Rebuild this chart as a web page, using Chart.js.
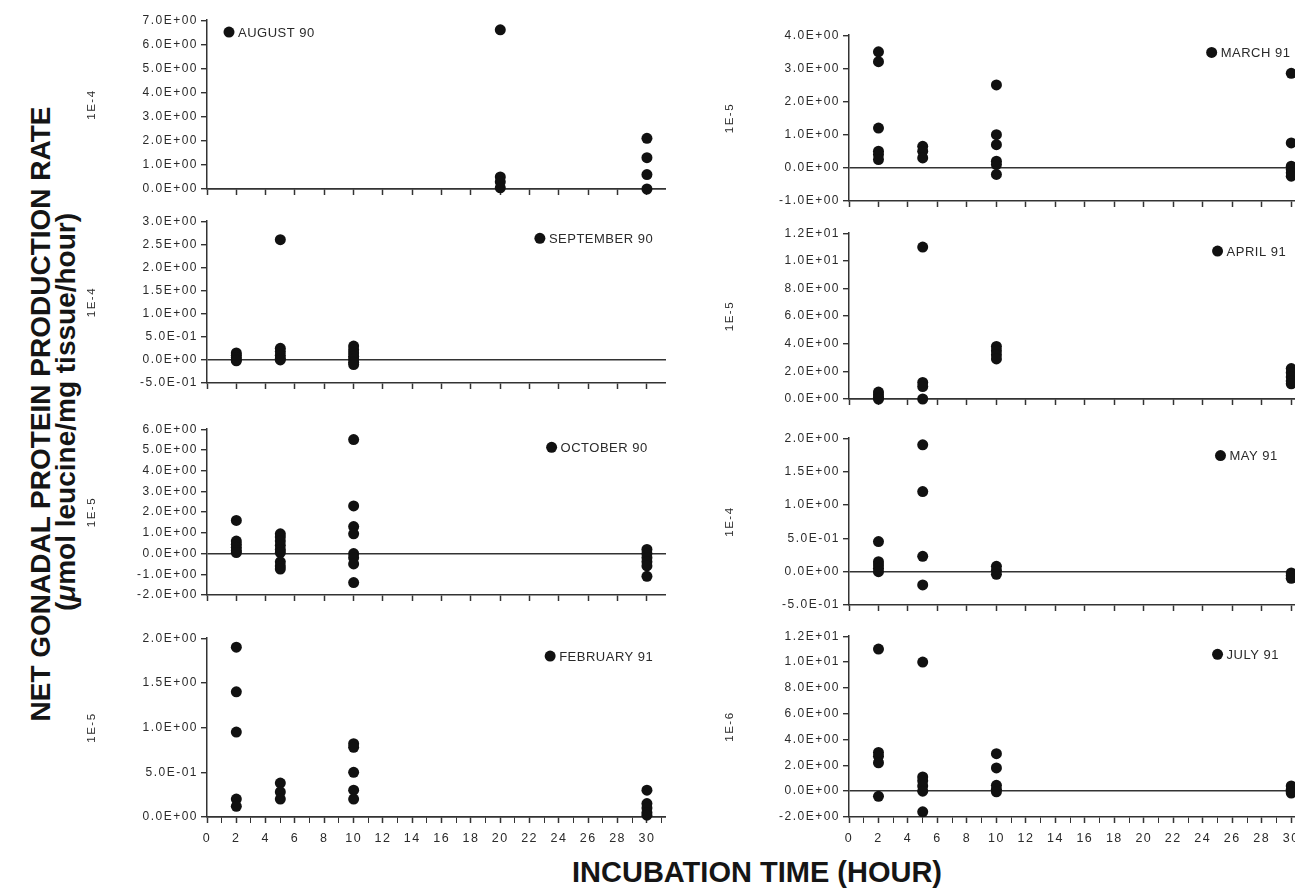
<!DOCTYPE html>
<html>
<head>
<meta charset="utf-8">
<script src="https://cdn.jsdelivr.net/npm/chart.js@4.4.1/dist/chart.umd.min.js"></script>
<style>
html, body { margin:0; padding:0; background:#fff; width:1295px; height:889px; overflow:hidden; }
canvas { position:absolute; }
.ttl { position:absolute; font:bold 28px "Liberation Sans", Arial, sans-serif; color:#151515; white-space:nowrap; }
.rot { transform:translate(-50%, -50%) rotate(-90deg); }
</style>
</head>
<body>
<div class="ttl rot" style="left:41px; top:414px;">NET GONADAL PROTEIN PRODUCTION RATE</div>
<div class="ttl rot" style="left:66px; top:412px;">(<i>μ</i>mol leucine/mg tissue/hour)</div>
<div class="ttl" style="left:572px; top:856px; font-size:29px;">INCUBATION TIME (HOUR)</div>
<script>
// incubation hour / production rate pairs, one pair of arrays per sampling month
const augHours = [20, 20, 20, 20, 30, 30, 30, 30];
const augRate  = [6.6, 0.5, 0.3, 0.05, 2.1, 1.3, 0.6, 0.0];

const sepHours = [2, 2, 2, 2, 2, 5, 5, 5, 5, 5, 5, 10, 10, 10, 10, 10, 10, 10];
const sepRate  = [0.15, 0.1, 0.05, 0.0, -0.02, 2.6, 0.25, 0.18, 0.1, 0.03, 0.0, 0.3, 0.22, 0.15, 0.08, 0.02, -0.05, -0.1];

const octHours = [2, 2, 2, 2, 2, 2, 5, 5, 5, 5, 5, 5, 5, 5, 5, 10, 10, 10, 10, 10, 10, 10, 10, 30, 30, 30, 30, 30, 30];
const octRate  = [1.6, 0.6, 0.45, 0.3, 0.15, 0.05, 0.95, 0.8, 0.6, 0.4, 0.2, 0.05, -0.4, -0.6, -0.75,
                  5.5, 2.3, 1.3, 0.95, 0.0, -0.2, -0.5, -1.4, 0.2, 0.0, -0.2, -0.4, -0.6, -1.1];

const febHours = [2, 2, 2, 2, 2, 5, 5, 5, 10, 10, 10, 10, 10, 30, 30, 30, 30, 30];
const febRate  = [1.9, 1.4, 0.95, 0.2, 0.12, 0.38, 0.28, 0.2, 0.82, 0.78, 0.5, 0.3, 0.2, 0.3, 0.15, 0.1, 0.05, 0.02];

const marHours = [2, 2, 2, 2, 2, 2, 5, 5, 5, 10, 10, 10, 10, 10, 10, 30, 30, 30, 30, 30, 30];
const marRate  = [3.5, 3.2, 1.2, 0.5, 0.4, 0.25, 0.65, 0.5, 0.3, 2.5, 1.0, 0.7, 0.2, 0.1, -0.2, 2.85, 0.75, 0.05, -0.05, -0.15, -0.25];

const aprHours = [2, 2, 2, 2, 5, 5, 5, 5, 10, 10, 10, 10, 30, 30, 30, 30, 30];
const aprRate  = [0.5, 0.3, 0.1, 0.0, 11.0, 1.2, 0.9, 0.0, 3.8, 3.5, 3.2, 2.9, 2.2, 1.9, 1.6, 1.3, 1.1];

const mayHours = [2, 2, 2, 2, 2, 5, 5, 5, 5, 10, 10, 10, 30, 30, 30];
const mayRate  = [0.45, 0.15, 0.1, 0.05, 0.0, 1.9, 1.2, 0.23, -0.2, 0.08, 0.02, -0.04, -0.02, -0.06, -0.1];

const julHours = [2, 2, 2, 2, 2, 5, 5, 5, 5, 5, 5, 10, 10, 10, 10, 10, 30, 30, 30, 30];
const julRate  = [11.0, 3.0, 2.7, 2.2, -0.4, 10.0, 1.1, 0.8, 0.4, 0.0, -1.6, 2.9, 1.8, 0.45, 0.15, -0.05, 0.4, 0.15, 0.0, -0.15];

const xTickLabels = ['0', '2', '4', '6', '8', '10', '12', '14', '16', '18', '20', '22', '24', '26', '28', '30'];

// layout of each panel: column, plot top/bottom in px, y range, unit label, legend spot
const panels = [
  { name: 'AUGUST 90',    unit: '1E-4', hours: augHours, rate: augRate, col: 0, top: 18,  bottom: 189, min: 0,    max: 7,  step: 1,   tagX: 1.5,  tagY: 0.07 },
  { name: 'SEPTEMBER 90', unit: '1E-4', hours: sepHours, rate: sepRate, col: 0, top: 219, bottom: 383, min: -0.5, max: 3,  step: 0.5, tagX: 22.7, tagY: 0.106 },
  { name: 'OCTOBER 90',   unit: '1E-5', hours: octHours, rate: octRate, col: 0, top: 427, bottom: 595, min: -2,   max: 6,  step: 1,   tagX: 23.5, tagY: 0.109 },
  { name: 'FEBRUARY 91',  unit: '1E-5', hours: febHours, rate: febRate, col: 0, top: 636, bottom: 817, min: 0,    max: 2,  step: 0.5, tagX: 23.4, tagY: 0.1, last: true },
  { name: 'MARCH 91',     unit: '1E-5', hours: marHours, rate: marRate, col: 1, top: 33,  bottom: 201, min: -1,   max: 4,  step: 1,   tagX: 24.6, tagY: 0.104 },
  { name: 'APRIL 91',     unit: '1E-5', hours: aprHours, rate: aprRate, col: 1, top: 231, bottom: 399, min: 0,    max: 12, step: 2,   tagX: 25.0, tagY: 0.108 },
  { name: 'MAY 91',       unit: '1E-4', hours: mayHours, rate: mayRate, col: 1, top: 436, bottom: 605, min: -0.5, max: 2,  step: 0.5, tagX: 25.2, tagY: 0.104 },
  { name: 'JULY 91',      unit: '1E-6', hours: julHours, rate: julRate, col: 1, top: 634, bottom: 817, min: -2,   max: 12, step: 2,   tagX: 25.0, tagY: 0.1, last: true }
];

const cols = [
  { left: 85,  yWidth: 122, width: 581, xMax: 31.3 },
  { left: 723, yWidth: 126, width: 583, xMax: 31 }
];

const FONT = '"Liberation Sans", Arial, sans-serif';
Chart.defaults.font.family = FONT;
Chart.defaults.color = '#2a2a2a';

function sci(v) {
  if (Math.abs(v) < 1e-9) return '0.0E+00';
  const e = Math.floor(Math.log10(Math.abs(v)) + 1e-9);
  const m = v / Math.pow(10, e);
  return m.toFixed(1) + 'E' + (e < 0 ? '-' : '+') + String(Math.abs(e)).padStart(2, '0');
}

// wider glyph spacing like the scanned labels
const spacing = {
  id: 'spacing',
  beforeDraw(chart) { chart.ctx.letterSpacing = '1.5px'; }
};

// the month tag drawn inside each plot
const tag = {
  id: 'tag',
  afterDatasetsDraw(chart, args, opts) {
    const ctx = chart.ctx;
    const area = chart.chartArea;
    const px = chart.scales.x.getPixelForValue(opts.x);
    const py = area.top + opts.fy * (area.bottom - area.top);
    ctx.save();
    ctx.fillStyle = '#111';
    ctx.beginPath();
    ctx.arc(px, py, 5.5, 0, Math.PI * 2);
    ctx.fill();
    ctx.letterSpacing = '0.5px';
    ctx.font = '13px ' + FONT;
    ctx.fillStyle = '#2a2a2a';
    ctx.textBaseline = 'middle';
    ctx.fillText(opts.text, px + 9, py + 1);
    ctx.restore();
  }
};

panels.forEach(p => {
  const c = cols[p.col];
  const padTop = 8;
  const xH = p.last ? 34 : 12;
  const cv = document.createElement('canvas');
  cv.width = c.width;
  cv.height = p.bottom - p.top + padTop + xH;
  cv.style.left = c.left + 'px';
  cv.style.top = (p.top - padTop) + 'px';
  document.body.appendChild(cv);

  new Chart(cv, {
    type: 'scatter',
    data: {
      datasets: [{
        label: p.name,
        data: p.hours.map((h, i) => ({ x: h, y: p.rate[i] })),
        pointRadius: 5.5,
        pointBackgroundColor: '#111',
        pointBorderWidth: 0,
        clip: false
      }]
    },
    options: {
      responsive: false,
      animation: false,
      events: [],
      layout: { padding: { top: padTop, left: 0, right: 0, bottom: 0 }, autoPadding: false },
      plugins: {
        legend: { display: false },
        tooltip: { enabled: false },
        tag: { x: p.tagX, fy: p.tagY, text: p.name }
      },
      scales: {
        x: {
          type: 'linear',
          min: 0,
          max: c.xMax,
          afterFit: s => { s.height = xH; s.paddingLeft = 0; s.paddingRight = 0; },
          border: { color: '#333', width: 1.5 },
          grid: {
            drawOnChartArea: false,
            tickLength: 6,
            tickColor: '#333',
            tickWidth: ctx => (ctx.tick && ctx.tick.value % 2 ? 1 : 1.5)
          },
          ticks: {
            display: !!p.last,
            stepSize: p.last ? 1 : 2,
            includeBounds: false,
            autoSkip: false,
            maxRotation: 0,
            padding: 8,
            font: { size: 12.5 },
            callback: v => (v % 2 === 0 ? xTickLabels[v / 2] : '')
          }
        },
        y: {
          min: p.min,
          max: p.max,
          afterFit: s => { s.width = c.yWidth; },
          border: { color: '#333', width: 1.5 },
          grid: {
            color: ctx => (ctx.tick && Math.abs(ctx.tick.value) < 1e-9 ? '#333' : 'rgba(0,0,0,0)'),
            lineWidth: 1.4,
            tickColor: '#333',
            tickLength: 6
          },
          ticks: {
            stepSize: p.step,
            padding: 3,
            font: { size: 12 },
            callback: v => sci(v)
          },
          title: {
            display: true,
            text: p.unit,
            padding: { top: 0, bottom: 0 },
            font: { size: 11.5 }
          }
        }
      }
    },
    plugins: [spacing, tag]
  });
});
</script>
</body>
</html>
